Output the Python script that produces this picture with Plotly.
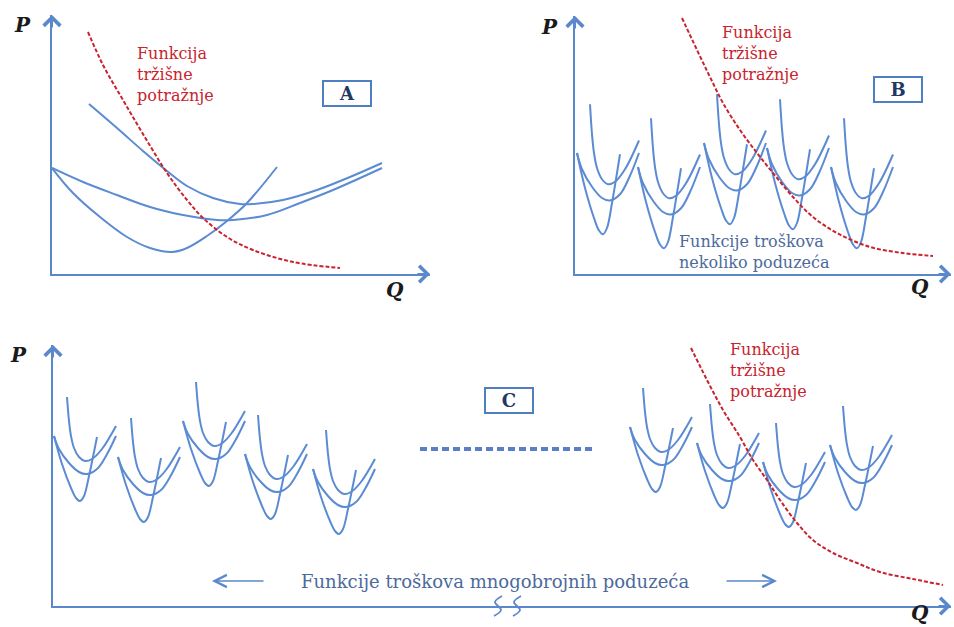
import plotly.graph_objects as go

# ---------------- data (arbitrary units, each panel's origin = (0, 0)) ----------------
# Panel A: one demand curve and three cost curves
A_demand_q = [36, 51, 71, 91, 115, 135, 151, 175, 201, 241, 288]
A_demand_p = [242, 209, 174, 140, 101, 74, 56, 37, 24, 12, 6]
A_cost1_q = [37, 65, 91, 115, 135, 161, 188, 201, 231, 265, 298, 330]
A_cost1_p = [170, 146, 123, 103, 88, 76, 70, 70, 74, 84, 97, 111]
A_cost2_q = [0, 31, 65, 98, 131, 165, 181, 215, 248, 281, 330]
A_cost2_p = [106, 92, 79, 67, 59, 54, 54, 59, 71, 84, 106]
A_cost3_q = [0, 21, 48, 75, 98, 120, 135, 155, 175, 195, 225]
A_cost3_p = [106, 81, 57, 37, 26, 22, 26, 38, 53, 71, 107]

# Panel B: demand curve
B_demand_q = [107, 122, 135, 148, 165, 182, 198, 218, 238, 262, 295, 328, 358]
B_demand_p = [256, 224, 197, 171, 144, 121, 101, 77, 57, 41, 27, 21, 18]

# Panel C: demand curve
C_demand_q = [638, 654, 670, 687, 700, 714, 727, 744, 760, 780, 804, 827, 860, 890]
C_demand_p = [258, 226, 196, 169, 146, 126, 106, 83, 66, 53, 43, 34, 27, 21]

# Shape of one firm's group of three cost curves (offsets from the group's start point)
J_dq = [13, 15, 17, 20, 25, 31, 38, 48, 62]
J_dp = [39, 15, 0, -12, -21, -25, -23, -13, 10]
U_dq = [0, 5, 15, 25, 33, 43, 52, 62]
U_dp = [0, -13, -27, -36, -38, -33, -20, 0]
V_dq = [0, 8, 17, 22, 26, 30, 35, 40, 43]
V_dp = [0, -28, -52, -62, -65, -60, -40, -16, -1]

# Start points of each firm's group
B_start_q = [2, 63, 129, 192, 256]
B_start_p = [121, 107, 131, 126, 107]
C_start_q = [1, 65, 130, 192, 260, 577, 644, 710, 777]
C_start_p = [170, 149, 185, 152, 137, 179, 163, 144, 161]

# Dotted "..." segment in panel C
C_dots_q = [367, 539]
C_dots_p = [157, 157]

# Axis-break squiggle on panel C's Q axis (offsets from each mark's centre) and positions
BRK_dq = [4, -3, 3, -4]
BRK_dp = [10, 4, -4, -10]
BRK_q = [445, 464]

# ---------------- styling ----------------
BLUE = "#5b8bd3"
AXIS = "#5a88cc"
RED = "#c8232e"
TXT_BLUE = "#4c6a9c"
NAVY = "#1f3864"
SERIF = "DejaVu Serif"
B_SCALE = 1.25   # vertical size of the cost-curve groups in panel B
C_SCALE = 1.0

fig = go.Figure()

def curve(q, p, xa, ya, color=BLUE, dash=None, width=2):
    fig.add_trace(go.Scatter(
        x=q, y=p, mode="lines", xaxis=xa, yaxis=ya, hoverinfo="skip",
        line=dict(color=color, width=width, shape="spline", smoothing=1.0,
                  dash=dash)))

# Panel A
curve(A_cost1_q, A_cost1_p, "x", "y")
curve(A_cost2_q, A_cost2_p, "x", "y")
curve(A_cost3_q, A_cost3_p, "x", "y")
curve(A_demand_q, A_demand_p, "x", "y", color=RED, dash="4px,2px")

def groups(sq, sp, scale, xa, ya):
    for q0, p0 in zip(sq, sp):
        for dq, dp in ((J_dq, J_dp), (U_dq, U_dp), (V_dq, V_dp)):
            curve([q0 + d for d in dq], [p0 + d * scale for d in dp], xa, ya)

groups(B_start_q, B_start_p, B_SCALE, "x2", "y2")
curve(B_demand_q, B_demand_p, "x2", "y2", color=RED, dash="4px,2px")

groups(C_start_q, C_start_p, C_SCALE, "x3", "y3")
curve(C_demand_q, C_demand_p, "x3", "y3", color=RED, dash="4px,2px")
fig.add_trace(go.Scatter(x=C_dots_q, y=C_dots_p, mode="lines", xaxis="x3", yaxis="y3",
                         hoverinfo="skip",
                         line=dict(color="#5a7fc4", width=4, dash="7px,4px")))
# break marks live on an overlay axis pair that straddles panel C's Q axis
for q0 in BRK_q:
    curve([q0 + d for d in BRK_dq], BRK_dp, "x4", "y4", color=AXIS, width=1.8)

# ---------------- axes ----------------
W, H = 954, 627
panels = {
    "": dict(o=(52, 274), w=378, h=259),
    "2": dict(o=(575, 274), w=376, h=258),
    "3": dict(o=(53, 606), w=898, h=261),
}
layout_axes = {}
for k, pd in panels.items():
    ox, oy = pd["o"]
    xd = [ox / W, (ox + pd["w"]) / W]
    yd = [(H - oy) / H, (H - oy + pd["h"]) / H]
    common = dict(showgrid=False, zeroline=False, showticklabels=False, ticks="",
                  showline=True, linecolor=AXIS, linewidth=2, fixedrange=True)
    layout_axes["xaxis" + k] = dict(domain=xd, range=[0, pd["w"]], anchor="y" + k, **common)
    layout_axes["yaxis" + k] = dict(domain=yd, range=[0, pd["h"]], anchor="x" + k, **common)

# overlay for the axis-break marks: same Q scale as panel C, 32 px tall band centred on its axis
pc = panels["3"]
layout_axes["xaxis4"] = dict(domain=layout_axes["xaxis3"]["domain"], range=[0, pc["w"]],
                             anchor="y4", visible=False, fixedrange=True)
layout_axes["yaxis4"] = dict(domain=[(H - pc["o"][1] - 16) / H, (H - pc["o"][1] + 16) / H],
                             range=[-16, 16], anchor="x4", visible=False, fixedrange=True)

fig.update_layout(**layout_axes)

ann = []
for k, pd in panels.items():
    xr, yr = "x" + k, "y" + k
    # arrow heads
    ann.append(dict(x=pd["w"], y=0, ax=pd["w"] - 14, ay=0, xref=xr, yref=yr, axref=xr, ayref=yr,
                    text="", showarrow=True, arrowhead=4, arrowsize=1.6, arrowwidth=2,
                    arrowcolor=AXIS))
    ann.append(dict(x=0, y=pd["h"], ax=0, ay=pd["h"] - 14, xref=xr, yref=yr, axref=xr, ayref=yr,
                    text="", showarrow=True, arrowhead=4, arrowsize=1.6, arrowwidth=2,
                    arrowcolor=AXIS))

def label(text, x, y, xr, yr, size=16, color=RED, xanchor="left", **kw):
    ann.append(dict(text=text, x=x, y=y, xref=xr, yref=yr, showarrow=False,
                    xanchor=xanchor, yanchor="middle", align="left",
                    font=dict(family=SERIF, size=size, color=color), **kw))

# axis letters (paper coordinates, outside the plotting areas)
for (t, x, y) in [("P", 22, 25), ("Q", 395, 290), ("P", 549, 27), ("Q", 920, 287),
                  ("P", 18, 355), ("Q", 920, 613)]:
    label("<b><i>%s</i></b>" % t, x / W, 1 - y / H, "paper", "paper", size=20,
          color="#1a1a1a", xanchor="center")

# demand labels
DEMAND_TXT = "Funkcija<br>tržišne<br>potražnje"
for (x, y, xr, yr) in [(83, 200, "x", "y"), (145, 220, "x2", "y2"), (675, 236, "x3", "y3")]:
    label(DEMAND_TXT, x, y, xr, yr, size=16)

# cost function labels
label("Funkcije troškova<br>nekoliko poduzeća", 102, 22, "x2", "y2", size=16, color=TXT_BLUE)
label("Funkcije troškova mnogobrojnih poduzeća", 442, 25, "x3", "y3", size=18,
      color=TXT_BLUE, xanchor="center")

# side arrows of the bottom label
ann.append(dict(x=159, y=25, ax=212, ay=25, xref="x3", yref="y3", axref="x3", ayref="y3",
                text="", showarrow=True, arrowhead=5, arrowsize=1.6, arrowwidth=1.5,
                arrowcolor=AXIS))
ann.append(dict(x=724, y=25, ax=672, ay=25, xref="x3", yref="y3", axref="x3", ayref="y3",
                text="", showarrow=True, arrowhead=5, arrowsize=1.6, arrowwidth=1.5,
                arrowcolor=AXIS))

# panel boxes
for (t, x, y, xr, yr) in [("A", 295, 180.5, "x", "y"), ("B", 322.5, 184.5, "x2", "y2"),
                          ("C", 456, 206, "x3", "y3")]:
    ann.append(dict(text="<b>%s</b>" % t, x=x, y=y, xref=xr, yref=yr, showarrow=False,
                    xanchor="center", yanchor="middle", width=44, height=21, borderpad=1,
                    bordercolor="#4f7fc0", borderwidth=2, bgcolor="white",
                    font=dict(family=SERIF, size=18, color=NAVY)))

fig.update_layout(annotations=ann, width=W, height=H, showlegend=False,
                  margin=dict(l=0, r=0, t=0, b=0, pad=0),
                  paper_bgcolor="white", plot_bgcolor="rgba(0,0,0,0)")

fig.write_html("out.html", config={"displayModeBar": False},
               post_script="document.body.style.margin='0';")
